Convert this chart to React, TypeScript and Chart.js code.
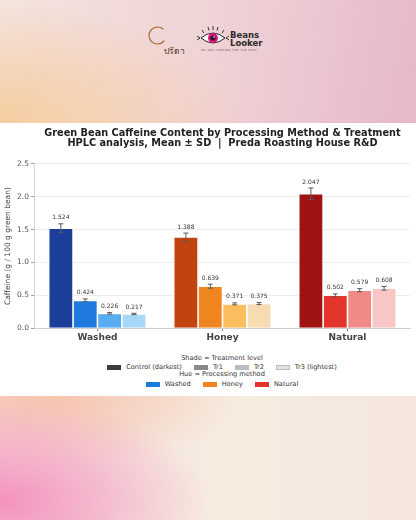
import React, { useEffect, useRef } from "react";
import { Chart, registerables } from "chart.js";

Chart.register(...registerables);

// Processing methods (x categories)
const categories = ["Washed", "Honey", "Natural"];

// Mean caffeine (g / 100 g green bean) per treatment level
const controlMeans = [1.524, 1.388, 2.047];
const tr1Means = [0.424, 0.639, 0.502];
const tr2Means = [0.226, 0.371, 0.579];
const tr3Means = [0.217, 0.375, 0.608];

// Standard deviations per treatment level
const controlSD = [0.065, 0.06, 0.088];
const tr1SD = [0.022, 0.03, 0.02];
const tr2SD = [0.012, 0.015, 0.023];
const tr3SD = [0.01, 0.015, 0.028];

// Y axis range
const yMin = 0;
const yMax = 2.5;
const yStep = 0.5;

// Hue per method, shade per treatment (darkest -> lightest)
const controlColors = ["#1a3e9a", "#c1430f", "#a01313"];
const tr1Colors = ["#1f7ade", "#f0841f", "#e3352b"];
const tr2Colors = ["#58adf0", "#fbbe5f", "#ef8a86"];
const tr3Colors = ["#a7d8f7", "#f8dcb1", "#f8c7c5"];

const treatmentNames = ["Control", "Tr1", "Tr2", "Tr3"];
const shadeLegendLabels = ["Control (darkest)", "Tr1", "Tr2", "Tr3 (lightest)"];
const shadeLegendColors = ["#3c3c3c", "#8a8a8a", "#bdbdbd", "#e2e2e2"];
const hueLegendLabels = ["Washed", "Honey", "Natural"];
const hueLegendColors = ["#1f7ade", "#f0841f", "#e3352b"];

const FONT = "'DejaVu Sans', sans-serif";

const errorBarPlugin = {
  id: "errorBars",
  afterDatasetsDraw(chart: any) {
    const ctx = chart.ctx;
    const yScale = chart.scales.y;
    chart.data.datasets.forEach((ds: any, di: number) => {
      const meta = chart.getDatasetMeta(di);
      const sds: number[] = ds.sd;
      meta.data.forEach((bar: any, i: number) => {
        const v = ds.data[i];
        const sd = sds[i];
        const x = bar.x;
        const yTop = yScale.getPixelForValue(v + sd);
        const yBot = yScale.getPixelForValue(v - sd);
        ctx.save();
        ctx.strokeStyle = "#5a5a5a";
        ctx.lineWidth = 1;
        ctx.beginPath();
        ctx.moveTo(x, yTop);
        ctx.lineTo(x, yBot);
        ctx.moveTo(x - 2.5, yTop);
        ctx.lineTo(x + 2.5, yTop);
        ctx.moveTo(x - 2.5, yBot);
        ctx.lineTo(x + 2.5, yBot);
        ctx.stroke();
        ctx.fillStyle = "#333";
        ctx.font = `6px ${FONT}`;
        ctx.textAlign = "center";
        ctx.textBaseline = "bottom";
        ctx.fillText(v.toFixed(3), x, yTop - 3);
        ctx.restore();
      });
    });
  },
};

function ChartCanvas() {
  const ref = useRef<HTMLCanvasElement | null>(null);
  useEffect(() => {
    if (!ref.current) return;
    const mk = (i: number, data: number[], sd: number[], colors: string[]) => ({
      label: treatmentNames[i],
      data,
      sd,
      backgroundColor: colors,
      borderColor: "#ffffff",
      borderWidth: 0.8,
      categoryPercentage: 0.78,
      barPercentage: 1.0,
    });
    const chart = new Chart(ref.current, {
      type: "bar",
      data: {
        labels: categories,
        datasets: [
          mk(0, controlMeans, controlSD, controlColors),
          mk(1, tr1Means, tr1SD, tr1Colors),
          mk(2, tr2Means, tr2SD, tr2Colors),
          mk(3, tr3Means, tr3SD, tr3Colors),
        ] as any,
      },
      options: {
        animation: false,
        responsive: true,
        maintainAspectRatio: false,
        layout: { padding: { left: 0, right: 6, top: 0, bottom: 4 } },
        plugins: {
          legend: { display: false },
          tooltip: { enabled: false },
          title: {
            display: true,
            fullSize: false,
            text: [
              "Green Bean Caffeine Content by Processing Method & Treatment",
              "HPLC analysis, Mean \u00b1 SD  |  Preda Roasting House R&D",
            ],
            color: "#222",
            font: { family: FONT, size: 9.75, weight: "bold", lineHeight: 1.05 },
            padding: { top: 5, bottom: 15.5 },
          },
        },
        scales: {
          x: {
            offset: true,
            grid: {
              display: true,
              drawOnChartArea: false,
              drawTicks: true,
              tickLength: 3,
              tickColor: "#888",
              offset: false,
            },
            border: { display: true, color: "#cfcfcf" },
            ticks: {
              color: "#444",
              padding: 1,
              font: { family: FONT, size: 9, weight: "bold" },
            },
          },
          y: {
            min: yMin,
            max: yMax,
            ticks: {
              stepSize: yStep,
              color: "#555",
              padding: 2,
              font: { family: FONT, size: 7.5 },
              callback: (v: any) => Number(v).toFixed(1),
            },
            grid: {
              color: "#ece8df",
              lineWidth: 0.8,
              drawTicks: true,
              tickLength: 4,
              tickColor: "#888",
            },
            border: { display: true, color: "#d6d6d6" },
            title: {
              display: true,
              text: "Caffeine (g / 100 g green bean)",
              color: "#444",
              font: { family: FONT, size: 7.5 },
              padding: { top: 4, bottom: 2 },
            },
          },
        },
      },
      plugins: [errorBarPlugin],
    });
    return () => chart.destroy();
  }, []);
  return (
    <div style={{ position: "relative", width: 416, height: 225 }}>
      <canvas ref={ref} />
    </div>
  );
}

function LegendRow({ labels, colors, outlineLast }: { labels: string[]; colors: string[]; outlineLast?: boolean }) {
  return (
    <div style={{ display: "flex", justifyContent: "center", alignItems: "center", gap: 12, height: 8 }}>
      {labels.map((l, i) => (
        <div key={l} style={{ display: "flex", alignItems: "center", gap: 5 }}>
          <span
            style={{
              display: "inline-block",
              width: 14,
              height: 5,
              background: colors[i],
              border: outlineLast && i === labels.length - 1 ? "0.5px solid #bbb" : "none",
              boxSizing: "border-box",
            }}
          />
          <span>{l}</span>
        </div>
      ))}
    </div>
  );
}

function Logos() {
  return (
    <svg width={416} height={70} style={{ position: "absolute", left: 0, top: 0 }}>
      {/* round brand mark */}
      <path
        d="M 163 29 A 8.5 8.5 0 1 0 164 41"
        fill="none"
        stroke="#a86d3c"
        strokeWidth={1.2}
        strokeLinecap="round"
      />
      <text x={174} y={54} fontSize={8.5} fill="#4a2e22" textAnchor="middle" fontFamily={FONT}>
        ปรีดา
      </text>
      {/* eye mark */}
      <g transform="translate(213,38)">
        <path d="M -12 0 Q 0 -10 12 0 Q 0 10 -12 0 Z" fill="#fff" stroke="#222" strokeWidth={1} />
        <circle r={5} fill="#e3157c" />
        <circle r={2.6} fill="#2a1530" />
        <circle cx={1} cy={-1} r={0.8} fill="#fff" />
        <path d="M -9 -5 L -11 -8 M -4 -7.5 L -5 -11 M 0 -8 L 0 -12 M 4 -7.5 L 5 -11 M 9 -5 L 11 -8" stroke="#222" strokeWidth={0.9} />
        <path d="M -13 0 L -16 -2 M -13 0 L -16 2 M 13 0 L 16 -2 M 13 0 L 16 2" stroke="#222" strokeWidth={0.9} />
      </g>
      <text x={230} y={38} fontSize={8.5} fontWeight="bold" fill="#2b2b2b" fontFamily={FONT}>
        Beans
      </text>
      <text x={230} y={45.5} fontSize={8.5} fontWeight="bold" fill="#2b2b2b" fontFamily={FONT}>
        Looker
      </text>
      <text x={201} y={51} fontSize={2.6} fill="#6a4a50" fontFamily={FONT} letterSpacing={0.5}>
        WE ARE LOOKING FOR THE BEST
      </text>
    </svg>
  );
}

export default function App() {
  return (
    <div
      style={{
        position: "absolute",
        left: 0,
        top: 0,
        width: 416,
        height: 520,
        overflow: "hidden",
        fontFamily: FONT,
      }}
    >
      <div
        style={{
          position: "absolute",
          left: 0,
          top: 0,
          width: 416,
          height: 123,
          background:
            "radial-gradient(ellipse 60% 95% at 0% 100%, rgba(246,204,156,0.95), rgba(246,204,156,0) 100%), linear-gradient(100deg, #f4e3dc 0%, #efd3d6 50%, #e6b8c9 100%)",
        }}
      >
        <Logos />
      </div>
      <div
        style={{
          position: "absolute",
          left: 0,
          top: 396,
          width: 416,
          height: 124,
          background:
            "radial-gradient(ellipse 50% 85% at 0% 85%, rgba(244,146,190,1), rgba(244,160,196,0) 100%), radial-gradient(ellipse 45% 60% at 12% 0%, rgba(246,186,156,0.75), rgba(246,186,156,0) 100%), linear-gradient(90deg, #f5dfe0 0%, #f6ecdf 55%, #f4e6df 100%)",
        }}
      />
      <div
        style={{
          position: "absolute",
          left: 0,
          top: 123,
          width: 416,
          height: 273,
          background: "#ffffff",
        }}
      >
        <ChartCanvas />
        <div
          style={{
            position: "absolute",
            left: 0,
            top: 231,
            width: 444,
            fontSize: 6.6,
            color: "#333",
            lineHeight: "8px",
          }}
        >
          <div style={{ textAlign: "center", height: 8 }}>Shade = Treatment level</div>
          <div style={{ marginTop: 1 }}>
            <LegendRow labels={shadeLegendLabels} colors={shadeLegendColors} outlineLast />
          </div>
          <div style={{ textAlign: "center", height: 8, marginTop: -1 }}>Hue = Processing method</div>
          <div style={{ marginTop: 2 }}>
            <LegendRow labels={hueLegendLabels} colors={hueLegendColors} />
          </div>
        </div>
      </div>
    </div>
  );
}
